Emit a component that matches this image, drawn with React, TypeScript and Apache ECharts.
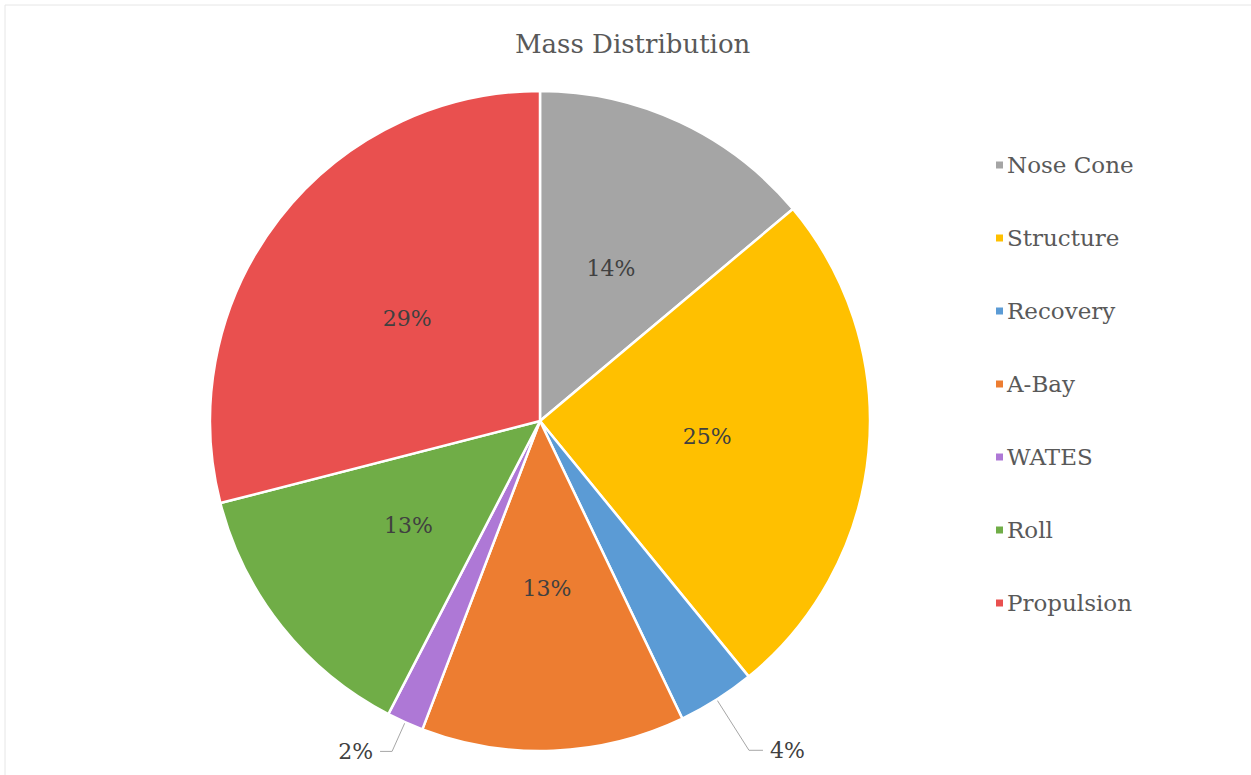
import React, { useEffect, useRef } from "react";
import * as echarts from "echarts";

const categories = ["Nose Cone", "Structure", "Recovery", "A-Bay", "WATES", "Roll", "Propulsion"];
const values = [13.9, 25.2, 3.8, 12.9, 1.8, 13.4, 29.0];
const colors = ["#A5A5A5", "#FFC000", "#5B9BD5", "#ED7D31", "#AE78D6", "#70AD47", "#E9504F"];
const outsideLabels = ["Recovery", "WATES"];

export default function App() {
  const ref = useRef<HTMLDivElement>(null);
  useEffect(() => {
    if (!ref.current) return;
    const chart = echarts.init(ref.current, undefined, { renderer: "svg" });
    const font = "DejaVu Serif";
    const data = categories.map((name, i) => {
      const item: any = { name, value: values[i], itemStyle: { color: colors[i] } };
      if (outsideLabels.includes(name)) {
        item.label = {
          show: true,
          position: "outside",
          color: "#404040",
          padding: name === "Recovery" ? [0, 0, 8, 2] : [0, 2, 8, 0],
        };
        item.labelLine = {
          show: true,
          length: name === "Recovery" ? 60 : 32,
          length2: name === "Recovery" ? 14 : 12,
          lineStyle: { color: "#A6A6A6", width: 1 },
        };
      }
      return item;
    });
    chart.setOption({
      animation: false,
      backgroundColor: "#ffffff",
      title: {
        text: "Mass Distribution",
        left: 510,
        top: 26,
        textStyle: { fontFamily: font, fontSize: 26, fontWeight: "normal", color: "#595959" },
      },
      legend: {
        orient: "vertical",
        left: 989,
        top: 145,
        icon: "rect",
        itemWidth: 9,
        itemHeight: 9,
        itemGap: 43,
        data: categories,
        textStyle: { fontFamily: font, fontSize: 23, color: "#595959", lineHeight: 30, padding: [0, 0, 0, -2] },
      },
      graphic: [
        { type: "line", shape: { x1: 5, y1: 5, x2: 1251, y2: 5 }, style: { stroke: "#E6E6E6", lineWidth: 1 } },
        { type: "line", shape: { x1: 5, y1: 5, x2: 5, y2: 775 }, style: { stroke: "#E6E6E6", lineWidth: 1 } },
      ],
      series: [
        {
          type: "pie",
          center: [540, 421],
          radius: [0, 330],
          startAngle: 90,
          clockwise: true,
          avoidLabelOverlap: false,
          itemStyle: { borderColor: "#ffffff", borderWidth: 2.5 },
          label: {
            show: true,
            position: "inside",
            fontFamily: font,
            fontSize: 22,
            color: "#404040",
            formatter: (p: any) => Math.round(p.percent) + "%",
          },
          labelLine: { show: false },
          emphasis: { disabled: true },
          data,
        },
      ],
    });
    return () => chart.dispose();
  }, []);
  return (
    <div
      ref={ref}
      style={{ position: "fixed", left: 0, top: 0, width: 1251, height: 775, background: "#fff" }}
    />
  );
}
